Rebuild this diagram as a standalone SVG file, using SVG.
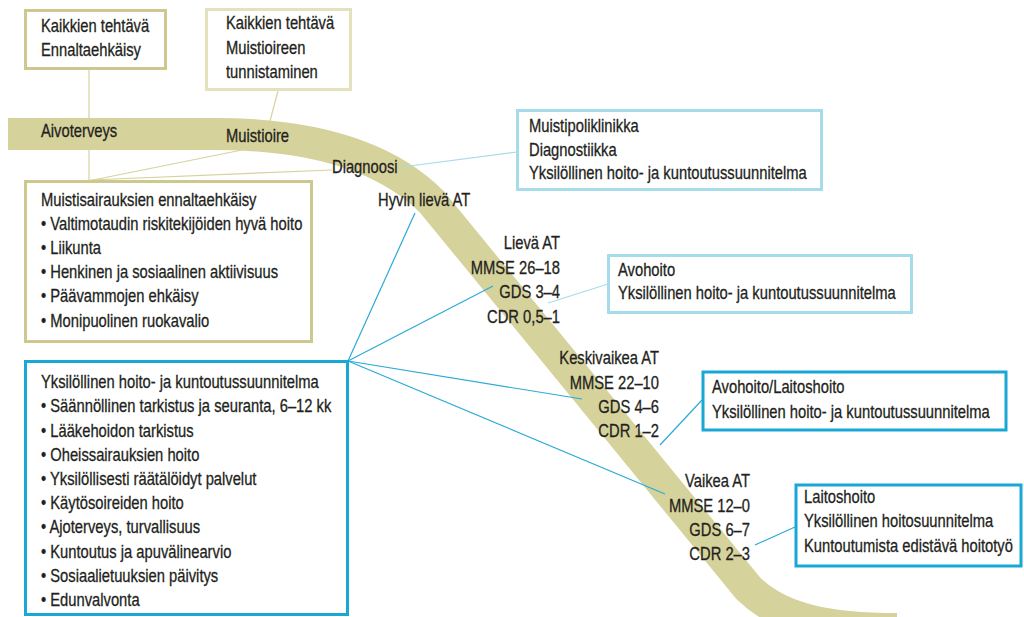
<svg xmlns="http://www.w3.org/2000/svg" width="1024" height="617" viewBox="0 0 1024 617">
<style>
text{font-family:"Liberation Sans",Arial,sans-serif;font-size:18px;fill:#231f20;stroke:#231f20;stroke-width:0.3}
.r{text-anchor:end}
.bk{fill:#fff;stroke:#cdc88e;stroke-width:3}
.bk2{fill:#fff;stroke:#e4e1bd;stroke-width:3}
.bl{fill:#fff;stroke:#a6dcea;stroke-width:3}
.bb{fill:#fff;stroke:#19a8d5;stroke-width:3}
.ck{stroke:#d6d29e;stroke-width:1.2;fill:none}
.cl{stroke:#a6dcea;stroke-width:1.2;fill:none}
.cb{stroke:#2aaad6;stroke-width:1.2;fill:none}
</style>
<rect width="1024" height="617" fill="#fff"/>
<g id="band">
<path d="M8,134 L215,134 C300,134 380,150 432,202 L748,588 C780,620 830,629 897,629" fill="none" stroke="#d6d29b" stroke-width="32"/>
</g>
<g id="connectors">
<line class="ck" x1="89" y1="70" x2="89" y2="118"/>
<line class="ck" x1="89" y1="150" x2="89" y2="180"/>
<line class="ck" x1="278" y1="91" x2="270" y2="121"/>
<line class="ck" x1="93" y1="180" x2="242" y2="150"/>
<line class="ck" x1="90" y1="180" x2="332" y2="170"/>
<line class="cl" x1="402" y1="167" x2="517" y2="152"/>
<line class="cl" x1="548" y1="303" x2="608" y2="284"/>
<line class="cb" x1="348" y1="361" x2="415" y2="213"/>
<line class="cb" x1="348" y1="361" x2="493" y2="286"/>
<line class="cb" x1="348" y1="361" x2="582" y2="399"/>
<line class="cb" x1="348" y1="361" x2="665" y2="494"/>
<line class="cb" x1="660" y1="445" x2="702" y2="400"/>
<line class="cb" x1="755" y1="545" x2="795" y2="527"/>
</g>
<g id="band-labels">
<text transform="translate(41,137) scale(.82,1)">Aivoterveys</text>
<text transform="translate(226,142) scale(.82,1)">Muistioire</text>
<text transform="translate(332,173) scale(.82,1)">Diagnoosi</text>
<text transform="translate(378,206) scale(.82,1)">Hyvin lievä AT</text>
</g>
<g id="stage-lieva">
<text class="r" transform="translate(560,249) scale(.82,1)">Lievä AT</text>
<text class="r" transform="translate(560,274) scale(.82,1)">MMSE 26–18</text>
<text class="r" transform="translate(560,298) scale(.82,1)">GDS 3–4</text>
<text class="r" transform="translate(560,323) scale(.82,1)">CDR 0,5–1</text>
</g>
<g id="stage-keskivaikea">
<text class="r" transform="translate(659,364) scale(.82,1)">Keskivaikea AT</text>
<text class="r" transform="translate(659,389) scale(.82,1)">MMSE 22–10</text>
<text class="r" transform="translate(659,413) scale(.82,1)">GDS 4–6</text>
<text class="r" transform="translate(659,437) scale(.82,1)">CDR 1–2</text>
</g>
<g id="stage-vaikea">
<text class="r" transform="translate(750,487) scale(.82,1)">Vaikea AT</text>
<text class="r" transform="translate(750,512) scale(.82,1)">MMSE 12–0</text>
<text class="r" transform="translate(750,536) scale(.82,1)">GDS 6–7</text>
<text class="r" transform="translate(750,560) scale(.82,1)">CDR 2–3</text>
</g>
<g id="box-ennaltaehkaisy">
<rect class="bk" x="25.5" y="10.5" width="140" height="58"/>
<text transform="translate(41,32) scale(.82,1)">Kaikkien tehtävä</text>
<text transform="translate(41,56) scale(.82,1)">Ennaltaehkäisy</text>
</g>
<g id="box-tunnistaminen">
<rect class="bk2" x="206.5" y="9.5" width="144" height="80"/>
<text transform="translate(226,29) scale(.82,1)">Kaikkien tehtävä</text>
<text transform="translate(226,54) scale(.82,1)">Muistioireen</text>
<text transform="translate(226,78) scale(.82,1)">tunnistaminen</text>
</g>
<g id="box-muistisairauksien">
<rect class="bk" x="25.5" y="181.5" width="286" height="160"/>
<text transform="translate(41,206) scale(.82,1)">Muistisairauksien ennaltaehkäisy</text>
<text transform="translate(41,230) scale(.82,1)">• Valtimotaudin riskitekijöiden hyvä hoito</text>
<text transform="translate(41,254) scale(.82,1)">• Liikunta</text>
<text transform="translate(41,278) scale(.82,1)">• Henkinen ja sosiaalinen aktiivisuus</text>
<text transform="translate(41,302) scale(.82,1)">• Päävammojen ehkäisy</text>
<text transform="translate(41,327) scale(.82,1)">• Monipuolinen ruokavalio</text>
</g>
<g id="box-suunnitelma">
<rect class="bb" x="25.5" y="361.5" width="322" height="253"/>
<text transform="translate(41,388) scale(.82,1)">Yksilöllinen hoito- ja kuntoutussuunnitelma</text>
<text transform="translate(41,412) scale(.82,1)">• Säännöllinen tarkistus ja seuranta, 6–12 kk</text>
<text transform="translate(41,437) scale(.82,1)">• Lääkehoidon tarkistus</text>
<text transform="translate(41,461) scale(.82,1)">• Oheissairauksien hoito</text>
<text transform="translate(41,485) scale(.82,1)">• Yksilöllisesti räätälöidyt palvelut</text>
<text transform="translate(41,509) scale(.82,1)">• Käytösoireiden hoito</text>
<text transform="translate(41,533) scale(.82,1)">• Ajoterveys, turvallisuus</text>
<text transform="translate(41,558) scale(.82,1)">• Kuntoutus ja apuvälinearvio</text>
<text transform="translate(41,582) scale(.82,1)">• Sosiaalietuuksien päivitys</text>
<text transform="translate(41,606) scale(.82,1)">• Edunvalvonta</text>
</g>
<g id="box-muistipoliklinikka">
<rect class="bl" x="517.5" y="110.5" width="304" height="79"/>
<text transform="translate(529,132) scale(.82,1)">Muistipoliklinikka</text>
<text transform="translate(529,156) scale(.82,1)">Diagnostiikka</text>
<text transform="translate(529,179) scale(.82,1)">Yksilöllinen hoito- ja kuntoutussuunnitelma</text>
</g>
<g id="box-avohoito">
<rect class="bl" x="608.5" y="255.5" width="303" height="57"/>
<text transform="translate(618,276) scale(.82,1)">Avohoito</text>
<text transform="translate(618,299) scale(.82,1)">Yksilöllinen hoito- ja kuntoutussuunnitelma</text>
</g>
<g id="box-avohoito-laitoshoito">
<rect class="bb" x="703" y="372" width="303" height="58"/>
<text transform="translate(712,393) scale(.82,1)">Avohoito/Laitoshoito</text>
<text transform="translate(712,418) scale(.82,1)">Yksilöllinen hoito- ja kuntoutussuunnitelma</text>
</g>
<g id="box-laitoshoito">
<rect class="bb" x="796" y="485" width="225" height="81"/>
<text transform="translate(804,503) scale(.82,1)">Laitoshoito</text>
<text transform="translate(804,527) scale(.82,1)">Yksilöllinen hoitosuunnitelma</text>
<text transform="translate(804,552) scale(.82,1)">Kuntoutumista edistävä hoitotyö</text>
</g>
</svg>
